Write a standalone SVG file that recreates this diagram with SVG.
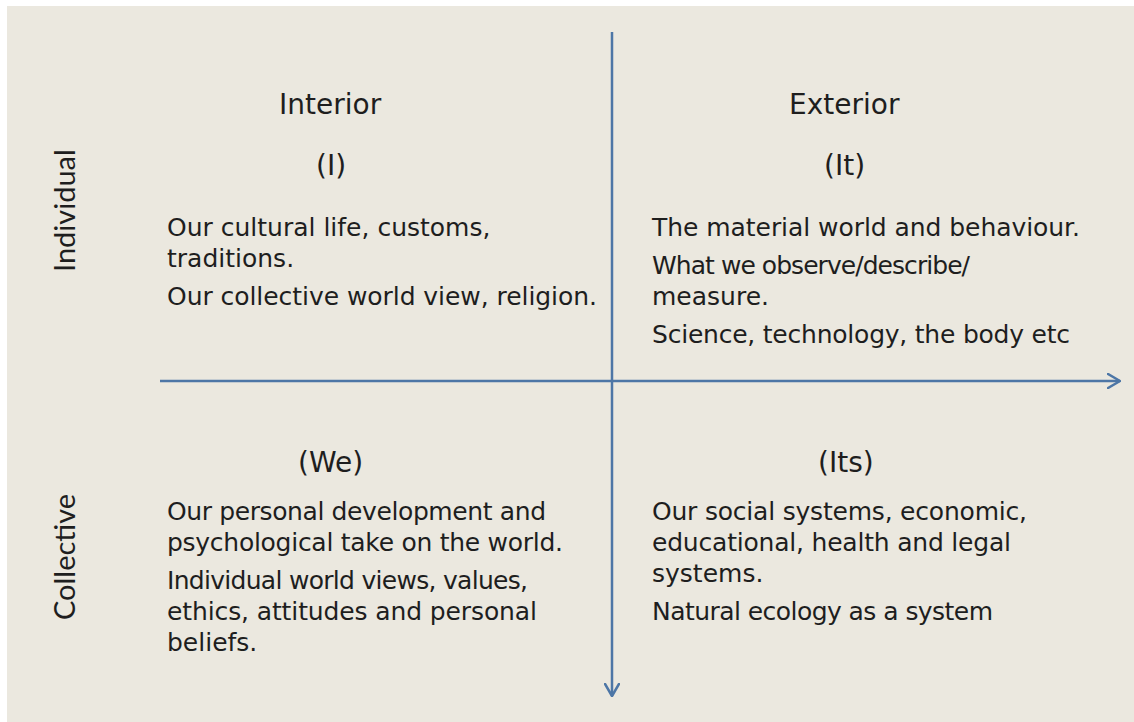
<svg xmlns="http://www.w3.org/2000/svg" width="1134" height="722" viewBox="0 0 1134 722">
  <style>
    .body { font-family: "DejaVu Sans", "Liberation Sans", sans-serif; font-size: 25px; fill: #1e1e1e; }
    .head { font-family: "DejaVu Sans", "Liberation Sans", sans-serif; font-size: 28px; fill: #1e1e1e; }
    .side { font-family: Lato, "Open Sans", "Liberation Sans", sans-serif; font-size: 29px; fill: #1e1e1e; }
    .axis { stroke: #4d76a6; stroke-width: 2.5; fill: none; }
  </style>
  <defs>
    <marker id="chevron" viewBox="0 0 14 16" refX="13" refY="8" markerWidth="14" markerHeight="16" markerUnits="userSpaceOnUse" orient="auto">
      <path d="M1,1 L13,8 L1,15" fill="none" stroke="#4d76a6" stroke-width="2.5" stroke-linecap="round" stroke-linejoin="round"/>
    </marker>
  </defs>

  <rect x="0" y="0" width="1134" height="722" fill="#ffffff"/>
  <rect x="7" y="6" width="1127" height="716" fill="#ebe8df"/>

  <!-- axes -->
  <g id="connectors">
    <line class="axis" x1="160" y1="381" x2="1120" y2="381" marker-end="url(#chevron)"/>
    <line class="axis" x1="612" y1="32" x2="612" y2="696" marker-end="url(#chevron)"/>
  </g>

  <!-- row labels -->
  <g id="label-individual">
    <text class="side" transform="translate(75,272) rotate(-90)">Individual</text>
  </g>
  <g id="label-collective">
    <text class="side" transform="translate(75,620) rotate(-90)">Collective</text>
  </g>

  <!-- column headings -->
  <g id="heading-interior">
    <text class="head" x="279" y="114">Interior</text>
  </g>
  <g id="heading-exterior">
    <text class="head" x="789" y="114">Exterior</text>
  </g>

  <!-- upper-left quadrant -->
  <g id="quadrant-i">
    <text class="head" x="316" y="175">(I)</text>
    <text class="body" x="167" y="236">Our cultural life, customs,</text>
    <text class="body" x="167" y="267">traditions.</text>
    <text class="body" x="167" y="305" textLength="430" lengthAdjust="spacing">Our collective world view, religion.</text>
  </g>

  <!-- upper-right quadrant -->
  <g id="quadrant-it">
    <text class="head" x="824" y="175">(It)</text>
    <text class="body" x="652" y="236" textLength="428" lengthAdjust="spacing">The material world and behaviour.</text>
    <text class="body" x="652" y="274" textLength="318" lengthAdjust="spacing">What we observe/describe/</text>
    <text class="body" x="652" y="305">measure.</text>
    <text class="body" x="652" y="343" textLength="418" lengthAdjust="spacing">Science, technology, the body etc</text>
  </g>

  <!-- lower-left quadrant -->
  <g id="quadrant-we">
    <text class="head" x="298" y="472">(We)</text>
    <text class="body" x="167" y="520" textLength="379" lengthAdjust="spacing">Our personal development and</text>
    <text class="body" x="167" y="551" textLength="396" lengthAdjust="spacing">psychological take on the world.</text>
    <text class="body" x="167" y="589" textLength="361" lengthAdjust="spacing">Individual world views, values,</text>
    <text class="body" x="167" y="620" textLength="370" lengthAdjust="spacing">ethics, attitudes and personal</text>
    <text class="body" x="167" y="651">beliefs.</text>
  </g>

  <!-- lower-right quadrant -->
  <g id="quadrant-its">
    <text class="head" x="818" y="472">(Its)</text>
    <text class="body" x="652" y="520" textLength="375" lengthAdjust="spacing">Our social systems, economic,</text>
    <text class="body" x="652" y="551" textLength="359" lengthAdjust="spacing">educational, health and legal</text>
    <text class="body" x="652" y="582">systems.</text>
    <text class="body" x="652" y="620" textLength="341" lengthAdjust="spacing">Natural ecology as a system</text>
  </g>
</svg>
